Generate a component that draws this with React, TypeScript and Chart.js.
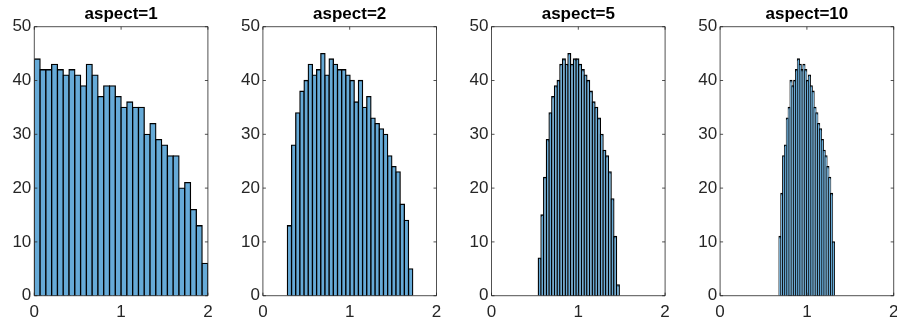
import React, { useEffect, useRef } from "react";
import { Chart, registerables } from "chart.js";

Chart.register(...registerables);

// ---- data ----
const titles = ["aspect=1", "aspect=2", "aspect=5", "aspect=10"];
const counts1 = [44, 42, 42, 43, 42, 41, 42, 41, 39, 43, 41, 37, 39, 39, 37, 35, 36, 35, 35, 30, 32, 29, 28, 26, 26, 20, 21, 16, 13, 6];
const counts2 = [13, 28, 34, 38, 40, 43, 41, 42, 45, 41, 44, 43, 42, 42, 41, 40, 36, 40, 35, 37, 33, 32, 31, 30, 26, 24, 23, 17, 14, 5];
const counts5 = [7, 15, 22, 29, 34, 37, 39, 40, 43, 44, 43, 45, 43, 44, 44, 43, 42, 41, 40, 38, 36, 35, 33, 30, 27, 26, 23, 18, 11, 2];
const counts10 = [11, 19, 26, 28, 33, 35, 40, 39, 40, 42, 44, 43, 42, 43, 42, 40, 41, 39, 38, 35, 34, 32, 31, 29, 27, 26, 24, 22, 19, 10];
const binLow = [0, 0.282, 0.539, 0.679];
const binHigh = [2, 1.726, 1.472, 1.316];
const xTickValues = [0, 1, 2];
const yTickValues = [0, 10, 20, 30, 40, 50];

const allCounts = [counts1, counts2, counts5, counts10];

// ---- layout / style ----
const CANVAS_LEFTS = [0, 228, 457, 686];
const PLOT_LEFTS = [34.3, 262.9, 491.5, 720.1];
const CW = 228;
const CH = 321;
const PW = 173.6;
const X_AXIS_H = 25.3;
const FACE = "#66aad7";
const EDGE = "#000000";
const AXIS = "#262626";
const FONT = "'Liberation Sans', Arial, Helvetica, sans-serif";
const EDGE_W = 1.3;

const boxPlugin = {
  id: "matlabBox",
  afterDatasetsDraw(chart: any) {
    const { ctx, chartArea: a, scales } = chart;
    ctx.save();
    ctx.strokeStyle = "rgba(38,38,38,0.8)";
    ctx.lineWidth = 1;
    ctx.beginPath();
    ctx.rect(a.left, a.top, a.right - a.left, a.bottom - a.top);
    const tl = 3;
    for (const v of xTickValues) {
      const px = scales.x.getPixelForValue(v);
      ctx.moveTo(px, a.bottom);
      ctx.lineTo(px, a.bottom - tl);
      ctx.moveTo(px, a.top);
      ctx.lineTo(px, a.top + tl);
    }
    for (const v of yTickValues) {
      const py = scales.y.getPixelForValue(v);
      ctx.moveTo(a.left, py);
      ctx.lineTo(a.left + tl, py);
      ctx.moveTo(a.right, py);
      ctx.lineTo(a.right - tl, py);
    }
    ctx.stroke();
    ctx.restore();
  },
};

function Hist({ idx }: { idx: number }) {
  const ref = useRef<HTMLCanvasElement>(null);
  useEffect(() => {
    const counts = allCounts[idx];
    const w = (binHigh[idx] - binLow[idx]) / counts.length;
    const data = counts.map((c, i) => ({ x: binLow[idx] + (i + 0.5) * w, y: c }));
    const yw = PLOT_LEFTS[idx] - CANVAS_LEFTS[idx];
    const chart = new Chart(ref.current as HTMLCanvasElement, {
      type: "bar",
      data: {
        datasets: [
          {
            data: data as any,
            backgroundColor: FACE,
            borderColor: EDGE,
            borderWidth: EDGE_W,
            inflateAmount: EDGE_W / 2,
            barPercentage: 1,
            categoryPercentage: 1,
            borderSkipped: "start",
          } as any,
        ],
      },
      options: {
        animation: false,
        responsive: false,
        devicePixelRatio: 1,
        layout: { padding: { left: 0, right: CW - yw - PW, top: 0, bottom: 0 } },
        plugins: {
          legend: { display: false },
          tooltip: { enabled: false },
          title: {
            display: true,
            text: titles[idx],
            fullSize: false,
            color: "#000",
            font: { family: FONT, size: 17, weight: "bold" },
            padding: { top: 4.4, bottom: 1.9 },
          },
        },
        scales: {
          x: {
            type: "linear",
            min: 0,
            max: 2,
            offset: false,
            grid: { display: false, drawTicks: false },
            border: { display: false },
            ticks: {
              color: AXIS,
              font: { family: FONT, size: 17 },
              padding: 6.5,
              maxRotation: 0,
              autoSkip: false,
              callback: (v: any) => String(v),
            },
            afterBuildTicks: (s: any) => {
              s.ticks = xTickValues.map((v) => ({ value: v }));
            },
            afterFit: (s: any) => {
              s.height = X_AXIS_H;
            },
          },
          y: {
            type: "linear",
            min: 0,
            max: 50,
            grid: { display: false, drawTicks: false },
            border: { display: false },
            ticks: {
              color: AXIS,
              font: { family: FONT, size: 17 },
              padding: 3,
              autoSkip: false,
              callback: (v: any) => String(v),
            },
            afterBuildTicks: (s: any) => {
              s.ticks = yTickValues.map((v) => ({ value: v }));
            },
            afterFit: (s: any) => {
              s.width = yw;
            },
          },
        },
      },
      plugins: [boxPlugin],
    });
    return () => chart.destroy();
  }, [idx]);
  return (
    <canvas
      ref={ref}
      width={CW}
      height={CH}
      style={{ position: "absolute", left: CANVAS_LEFTS[idx], top: 0, width: CW, height: CH }}
    />
  );
}

export default function App() {
  return (
    <div
      style={{
        position: "fixed",
        left: 0,
        top: 0,
        width: 897,
        height: 321,
        overflow: "hidden",
        background: "#fff",
      }}
    >
      {[0, 1, 2, 3].map((i) => (
        <Hist key={i} idx={i} />
      ))}
    </div>
  );
}
